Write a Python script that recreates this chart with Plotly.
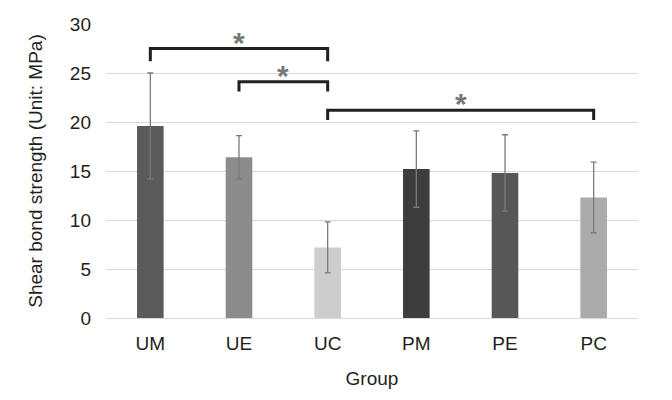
import plotly.graph_objects as go

groups = ["UM", "UE", "UC", "PM", "PE", "PC"]
means = [19.6, 16.4, 7.2, 15.2, 14.8, 12.3]
sds = [5.4, 2.2, 2.6, 3.9, 3.9, 3.6]
colors = ["#5b5b5b", "#8c8c8c", "#cdcdcd", "#3d3d3d", "#575757", "#ababab"]

# significance brackets: (left group, right group, bracket height, leg bottom)
brackets = [("UM", "UC", 27.5, 26.2), ("UE", "UC", 24.1, 23.1), ("UC", "PC", 21.2, 20.2)]

fig = go.Figure()
fig.add_trace(go.Bar(
    x=groups, y=means, width=0.3,
    marker=dict(color=colors, line=dict(width=0)),
    error_y=dict(type="data", array=sds, color="#7a7a7a", thickness=1.3, width=3),
    showlegend=False,
))

for a, b, h, low in brackets:
    fig.add_trace(go.Scatter(
        x=[a, a, b, b], y=[low, h, h, low], mode="lines",
        line=dict(color="#231f20", width=3), showlegend=False, hoverinfo="skip",
    ))
    ia, ib = groups.index(a), groups.index(b)
    fig.add_annotation(x=(ia + ib) / 2, y=h, text="<b>*</b>", showarrow=False,
                       yanchor="bottom", yshift=-12,
                       font=dict(size=30, color="#777777", family="Liberation Sans"))

fig.update_layout(
    width=672, height=400,
    margin=dict(l=98, r=42, t=16, b=90),
    plot_bgcolor="white", paper_bgcolor="white",
    font=dict(family="Liberation Sans, Arial, sans-serif", size=19, color="#231f20"),
    bargap=0.7,
    xaxis=dict(
        title=dict(text="Group", font=dict(size=19), standoff=18),
        showline=False, showgrid=False, ticks="", zeroline=False,
        range=[-0.5, 5.5], ticklabelstandoff=12, automargin=False,
    ),
    yaxis=dict(
        title=dict(text="Shear bond strength (Unit: MPa)", font=dict(size=19), standoff=22),
        range=[0, 30], dtick=5, showgrid=True, gridcolor="#d9d9d9", gridwidth=1,
        zeroline=True, zerolinecolor="#d9d9d9", zerolinewidth=1,
        showline=False, ticks="", ticklabelstandoff=14, automargin=False,
    ),
)

fig.write_html("out.html")
